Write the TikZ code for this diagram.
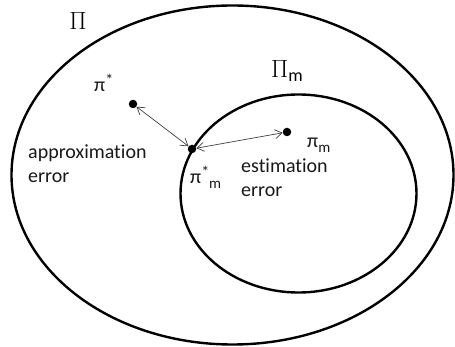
\documentclass[tikz,border=0pt]{standalone}
\usepackage{fontspec}
\setmainfont[Ligatures={NoCommon}]{Carlito}
\usetikzlibrary{arrows.meta}
\tikzset{
  setline/.style={line width=2.4pt, black},
  dot/.style={circle, fill=black, inner sep=0pt, minimum size=8.5pt},
  link/.style={draw=black!75, line width=0.7pt, {Straight Barb[length=7pt,width=9pt]}-{Straight Barb[length=7pt,width=9pt]}},
  lbl/.style={font=\fontsize{20}{24}\selectfont, text=black!90, inner sep=0pt},
  sym/.style={font=\fontsize{20}{24}\selectfont, text=black, inner sep=0pt}
}
\begin{document}
\begin{tikzpicture}[x=1pt,y=-1pt]
\useasboundingbox (0,0) rectangle (455,347);
\draw[setline] (232.5,175) ellipse [x radius=221, y radius=169.5];
\draw[setline] (298.5,193.5) ellipse [x radius=118, y radius=99];
\node[dot] (ps) at (133,104) {};
\node[dot] (psm) at (192,149) {};
\node[dot] (pm) at (287,132) {};
\draw[link] (ps) -- (psm);
\draw[link] (psm) -- (pm);
\node[sym, font=\fontsize{33}{34}\selectfont] (P) at (78,21) {$\Pi$};
\node[sym, anchor=base west] (Pm) at (271,78) {\fontsize{31}{32}\selectfont$\Pi$\raisebox{-4pt}{\fontsize{18}{20}\selectfont m}};
\node[lbl, anchor=base west] (lps) at (94,92) {π\raisebox{6pt}{\fontsize{16}{16}\selectfont *}};
\node[lbl, anchor=base west] (lpm) at (307,148) {π\raisebox{-5pt}{\fontsize{15}{16}\selectfont m}};
\node[lbl, anchor=base west] (lpsm) at (190,184) {π\raisebox{6pt}{\fontsize{16}{16}\selectfont *}\raisebox{-5pt}{\fontsize{15}{16}\selectfont m}};
\node[lbl, anchor=base west, align=left] (ae) at (28,183) {approximation\\error};
\node[lbl, anchor=base west, align=left] (ee) at (241,197) {estimation\\error};
\end{tikzpicture}
\end{document}
